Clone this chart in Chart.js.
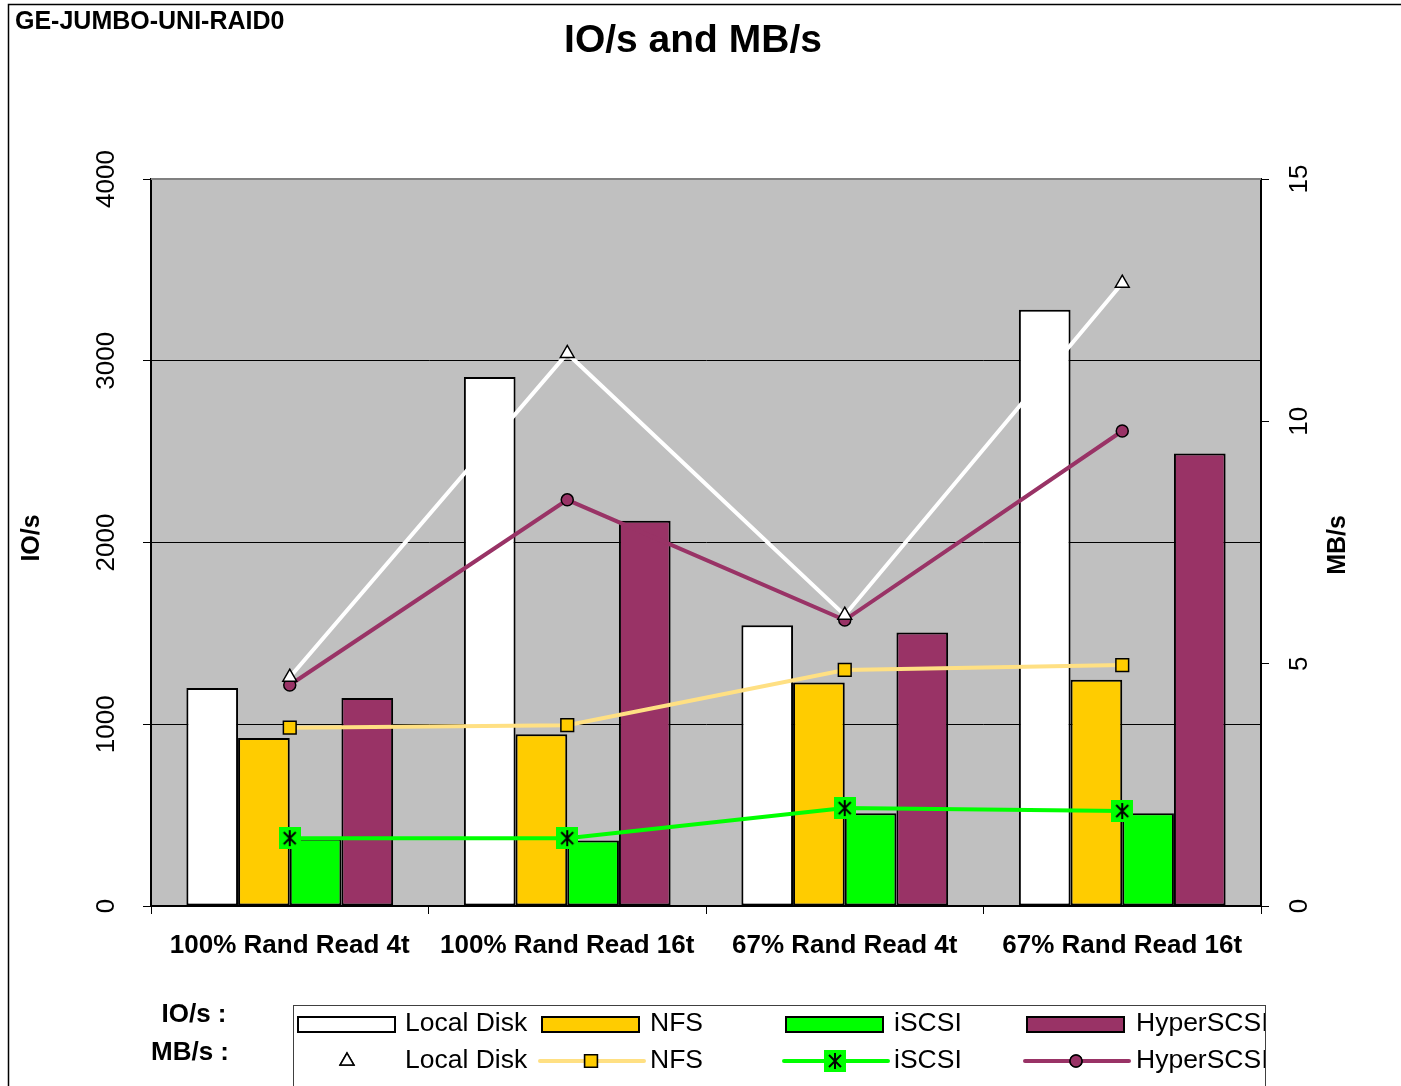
<!DOCTYPE html>
<html>
<head>
<meta charset="utf-8">
<title>IO/s and MB/s</title>
<script src="https://cdn.jsdelivr.net/npm/chart.js@4.4.0/dist/chart.umd.min.js"></script>
<style>
    html, body { margin: 0; padding: 0; background: #fff; }
    #wrap { width: 1401px; height: 1086px; position: relative; }
</style>
</head>
<body>
<div id="wrap"><canvas id="chart" width="1401" height="1086"></canvas></div>
<script>
// data
const categories = ["100% Rand Read 4t", "100% Rand Read 16t", "67% Rand Read 4t", "67% Rand Read 16t"];
const seriesNames = ["Local Disk", "NFS", "iSCSI", "HyperSCSI"];

const iopsLocalDisk = [1200, 2910, 1545, 3280];
const iopsNfs = [925, 945, 1230, 1245];
const iopsIscsi = [370, 360, 510, 510];
const iopsHyperscsi = [1145, 2120, 1505, 2490];

const mbLocalDisk = [4.72, 11.4, 6.0, 12.85];
const mbNfs = [3.68, 3.73, 4.87, 4.97];
const mbIscsi = [1.4, 1.4, 2.02, 1.96];
const mbHyperscsi = [4.56, 8.38, 5.9, 9.8];

const iopsTicks = [0, 1000, 2000, 3000, 4000];
const mbTicks = [0, 5, 10, 15];

const FONT = '"Liberation Sans", Arial, sans-serif';

const colors = {
    local: "#FFFFFF",
    nfs: "#FFCC00",
    nfsLine: "#FFE083",
    iscsi: "#00FF00",
    hyper: "#993366"
};

// iSCSI marker: green square with a black asterisk
function makeStarMarker() {
    const c = document.createElement("canvas");
    c.width = 22; c.height = 22;
    const g = c.getContext("2d");
    g.fillStyle = colors.iscsi;
    g.fillRect(0, 0, 22, 22);
    g.strokeStyle = "#000";
    g.lineWidth = 2;
    g.beginPath();
    g.moveTo(11, 3); g.lineTo(11, 19);
    g.moveTo(5, 5); g.lineTo(17, 17);
    g.moveTo(17, 5); g.lineTo(5, 17);
    g.stroke();
    return c;
}
const starMarker = makeStarMarker();

function barSet(label, data, color) {
    return {
        type: "bar",
        label: label,
        data: data,
        backgroundColor: color,
        borderColor: "#000",
        borderWidth: 2,
        borderSkipped: false,
        yAxisID: "y",
        order: 2
    };
}

function lineSet(label, data, lineColor, pointStyle, radius, pointFill) {
    return {
        type: "line",
        label: label,
        data: data,
        borderColor: lineColor,
        borderWidth: 4,
        tension: 0,
        pointStyle: pointStyle,
        pointRadius: radius,
        pointBackgroundColor: pointFill,
        pointBorderColor: "#000",
        pointBorderWidth: 1.5,
        yAxisID: "y1",
        order: 1
    };
}

// plot background, rotated tick labels, titles, legend
const decorPlugin = {
    id: "decor",
    beforeDraw(chart) {
        const { ctx, chartArea: a } = chart;
        ctx.save();
        ctx.fillStyle = "#C0C0C0";
        ctx.fillRect(a.left, a.top, a.right - a.left, a.bottom - a.top);
        ctx.restore();
    },
    beforeDatasetsDraw(chart) {
        const { ctx, chartArea: a } = chart;
        ctx.save();
        ctx.strokeStyle = "#808080";
        ctx.lineWidth = 2;
        ctx.beginPath();
        ctx.moveTo(a.left, a.top);
        ctx.lineTo(a.right, a.top);
        ctx.stroke();
        ctx.restore();
    },
    afterDraw(chart) {
        const { ctx } = chart;
        const yS = chart.scales.y;
        const y1S = chart.scales.y1;
        ctx.save();

        // outer frame
        ctx.strokeStyle = "#000";
        ctx.lineWidth = 1.5;
        ctx.strokeRect(8.5, 4.5, 1500, 1200);

        ctx.fillStyle = "#000";
        // top-left tag
        ctx.font = "bold 25px " + FONT;
        ctx.textAlign = "left";
        ctx.textBaseline = "middle";
        ctx.fillText("GE-JUMBO-UNI-RAID0", 15, 22);

        // title
        ctx.font = "bold 39px " + FONT;
        ctx.textAlign = "center";
        ctx.fillText("IO/s and MB/s", 693, 41);

        // rotated tick labels
        ctx.font = "26px " + FONT;
        iopsTicks.forEach(v => {
            ctx.save();
            ctx.translate(107, yS.getPixelForValue(v));
            ctx.rotate(-Math.PI / 2);
            ctx.fillText(String(v), 0, 0);
            ctx.restore();
        });
        mbTicks.forEach(v => {
            ctx.save();
            ctx.translate(1300, y1S.getPixelForValue(v));
            ctx.rotate(-Math.PI / 2);
            ctx.fillText(String(v), 0, 0);
            ctx.restore();
        });

        // axis titles
        ctx.font = "bold 25px " + FONT;
        ctx.save();
        ctx.translate(32, 538);
        ctx.rotate(-Math.PI / 2);
        ctx.fillText("IO/s", 0, 0);
        ctx.restore();
        ctx.save();
        ctx.translate(1338, 545);
        ctx.rotate(-Math.PI / 2);
        ctx.fillText("MB/s", 0, 0);
        ctx.restore();

        // legend
        ctx.font = "bold 26px " + FONT;
        ctx.textAlign = "center";
        ctx.fillText("IO/s :", 194, 1015);
        ctx.fillText("MB/s :", 190, 1053);

        const boxL = 293, boxT = 1005, boxR = 1265;
        ctx.strokeStyle = "#404040";
        ctx.lineWidth = 1;
        ctx.strokeRect(boxL + 0.5, boxT + 0.5, boxR - boxL, 200);

        ctx.save();
        ctx.beginPath();
        ctx.rect(boxL, boxT, boxR - boxL, 200);
        ctx.clip();

        const swatchX = [298, 542, 786, 1027];
        const textX = [405, 650, 894, 1136];
        const row1 = 1024, row2 = 1061;
        const barMetas = [0, 1, 2, 3].map(i => chart.data.datasets[i]);
        const lineMetas = [4, 5, 6, 7].map(i => chart.data.datasets[i]);

        ctx.font = "26.5px " + FONT;
        ctx.textAlign = "left";
        ctx.textBaseline = "middle";
        for (let i = 0; i < 4; i++) {
            const bx = swatchX[i];
            ctx.fillStyle = barMetas[i].backgroundColor;
            ctx.fillRect(bx, row1 - 7, 97, 15);
            ctx.strokeStyle = "#000";
            ctx.lineWidth = 2;
            ctx.strokeRect(bx, row1 - 7, 97, 15);

            const ds = lineMetas[i];
            const cx = bx + 49;
            if (i > 0) {
                ctx.strokeStyle = ds.borderColor;
                ctx.lineWidth = 4;
                ctx.lineCap = "round";
                ctx.beginPath();
                ctx.moveTo(bx - 2, row2);
                ctx.lineTo(bx + 102, row2);
                ctx.stroke();
            }
            if (ds.pointStyle instanceof HTMLCanvasElement) {
                ctx.drawImage(ds.pointStyle, cx - 11, row2 - 11);
            } else {
                ctx.lineWidth = 1.5;
                ctx.strokeStyle = "#000";
                Chart.helpers.drawPoint(ctx, {
                    pointStyle: ds.pointStyle,
                    radius: ds.pointRadius,
                    rotation: 0,
                    borderWidth: 1.5
                }, cx, row2);
                ctx.fillStyle = ds.pointBackgroundColor;
                ctx.fill();
                ctx.stroke();
            }

            ctx.fillStyle = "#000";
            ctx.fillText(seriesNames[i], textX[i], row1);
            ctx.fillText(seriesNames[i], textX[i], row2);
        }
        ctx.restore();

        ctx.restore();
    }
};

new Chart(document.getElementById("chart"), {
    type: "bar",
    data: {
        labels: categories,
        datasets: [
            barSet("Local Disk", iopsLocalDisk, colors.local),
            barSet("NFS", iopsNfs, colors.nfs),
            barSet("iSCSI", iopsIscsi, colors.iscsi),
            barSet("HyperSCSI", iopsHyperscsi, colors.hyper),
            lineSet("Local Disk", mbLocalDisk, "#FFFFFF", "triangle", 8, "#FFFFFF"),
            lineSet("NFS", mbNfs, colors.nfsLine, "rect", 9, colors.nfs),
            lineSet("iSCSI", mbIscsi, colors.iscsi, starMarker, 11, colors.iscsi),
            lineSet("HyperSCSI", mbHyperscsi, colors.hyper, "circle", 6, colors.hyper)
        ]
    },
    options: {
        responsive: false,
        animation: false,
        categoryPercentage: 0.745,
        barPercentage: 1,
        layout: { padding: { top: 179, left: 0, right: 0, bottom: 0 } },
        plugins: {
            legend: { display: false },
            title: { display: false },
            tooltip: { enabled: false }
        },
        scales: {
            x: {
                position: "bottom",
                afterFit: s => { s.height = 180; },
                grid: {
                    offset: true,
                    drawOnChartArea: false,
                    drawTicks: true,
                    tickLength: 8,
                    color: "#000",
                    lineWidth: 1
                },
                border: { display: true, color: "#000", width: 2 },
                ticks: {
                    color: "#000",
                    font: { family: FONT, size: 26, weight: "bold" },
                    padding: 16,
                    maxRotation: 0,
                    minRotation: 0
                }
            },
            y: {
                position: "left",
                min: 0,
                max: 4000,
                afterFit: s => { s.width = 151; },
                afterBuildTicks: s => { s.ticks = iopsTicks.map(v => ({ value: v })); },
                grid: { color: "#000", lineWidth: 1, tickLength: 8 },
                border: { display: true, color: "#000", width: 2 },
                ticks: { display: false }
            },
            y1: {
                position: "right",
                min: 0,
                max: 15,
                afterFit: s => { s.width = 140; },
                afterBuildTicks: s => { s.ticks = mbTicks.map(v => ({ value: v })); },
                grid: { drawOnChartArea: false, color: "#000", lineWidth: 1, tickLength: 8 },
                border: { display: true, color: "#000", width: 2 },
                ticks: { display: false }
            }
        }
    },
    plugins: [decorPlugin]
});
</script>
</body>
</html>
